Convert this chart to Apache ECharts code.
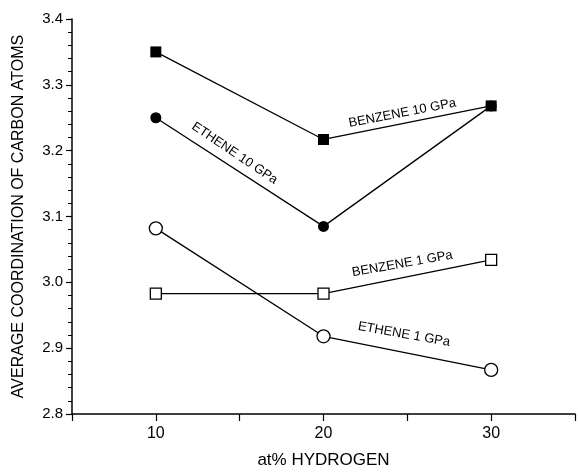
<!DOCTYPE html>
<html>
<head>
<meta charset="utf-8">
<script src="https://cdn.jsdelivr.net/npm/echarts@6/dist/echarts.min.js"></script>
<style>html,body{margin:0;padding:0;background:#fff;}#c{width:578px;height:474px;}</style>
</head>
<body>
<div id="c"></div>
<script>
const xValues = [10, 20, 30];
const xTickLabels = ['10', '20', '30'];
const benzene10 = [3.35, 3.217, 3.268];
const ethene10 = [3.25, 3.085, 3.268];
const benzene1 = [2.983, 2.983, 3.034];
const ethene1 = [3.082, 2.918, 2.867];
const labelTexts = ['BENZENE 10 GPa', 'ETHENE 10 GPa', 'BENZENE 1 GPa', 'ETHENE 1 GPa'];
const labelX = [24.7, 14.7, 24.7, 24.8];
const labelY = [3.257, 3.196, 3.028, 2.921];
const labelAngle = [11, -34, 10, -10];

const FONT = 'Liberation Sans, Arial, sans-serif';
const chart = echarts.init(document.getElementById('c'));
const pairs = arr => xValues.map((x, i) => [x, arr[i]]);
const mkSeries = (name, arr, symbol, size, filled) => ({
  name, type: 'line', data: pairs(arr), symbol, symbolSize: size,
  showAllSymbol: true,
  lineStyle: { color: '#000', width: 1.3 },
  itemStyle: { color: filled ? '#000' : '#fff', borderColor: '#000', borderWidth: filled ? 0 : 1.3, opacity: 1 },
  z: filled ? 4 : 3,
  animation: false
});

chart.setOption({
  backgroundColor: '#fff',
  animation: false,
  grid: { left: 72, right: 1, top: 19, bottom: 53 },
  xAxis: {
    type: 'value', min: 5, max: 35, interval: 5,
    name: 'at% HYDROGEN', nameLocation: 'middle', nameGap: 38,
    nameTextStyle: { color: '#000', fontSize: 17, fontFamily: FONT },
    axisLine: { lineStyle: { color: '#000', width: 1.5 } },
    axisTick: { show: true, length: 7, lineStyle: { color: '#000', width: 1.2 } },
    axisLabel: { color: '#000', fontSize: 16, fontFamily: FONT, margin: 12,
      formatter: v => xTickLabels.includes(String(v)) ? String(v) : '' },
    splitLine: { show: false }
  },
  yAxis: {
    type: 'value', min: 2.8, max: 3.4, interval: 0.1,
    name: 'AVERAGE COORDINATION OF CARBON ATOMS', nameLocation: 'middle', nameGap: 45,
    nameTextStyle: { color: '#000', fontSize: 16, fontFamily: FONT },
    axisLine: { show: true, lineStyle: { color: '#000', width: 1.5 } },
    axisTick: { show: true, length: 6, lineStyle: { color: '#000', width: 1.2 } },
    minorTick: { show: true, splitNumber: 5, length: 4, lineStyle: { color: '#000', width: 1 } },
    axisLabel: { color: '#000', fontSize: 15, fontFamily: FONT, margin: 9, formatter: v => v.toFixed(1) },
    splitLine: { show: false }
  },
  series: [
    mkSeries('ETHENE 1 GPa', ethene1, 'circle', 13, false),
    mkSeries('BENZENE 1 GPa', benzene1, 'rect', 11, false),
    mkSeries('ETHENE 10 GPa', ethene10, 'circle', 11, true),
    mkSeries('BENZENE 10 GPa', benzene10, 'rect', 11, true)
  ]
});

const graphics = labelTexts.map((t, i) => {
  const p = chart.convertToPixel({ gridIndex: 0 }, [labelX[i], labelY[i]]);
  return {
    type: 'text', x: p[0], y: p[1], rotation: labelAngle[i] * Math.PI / 180,
    style: { text: t, fill: '#000', font: '13px ' + FONT, align: 'center', verticalAlign: 'middle' },
    z: 10
  };
});
chart.setOption({ graphic: graphics });
</script>
</body>
</html>
